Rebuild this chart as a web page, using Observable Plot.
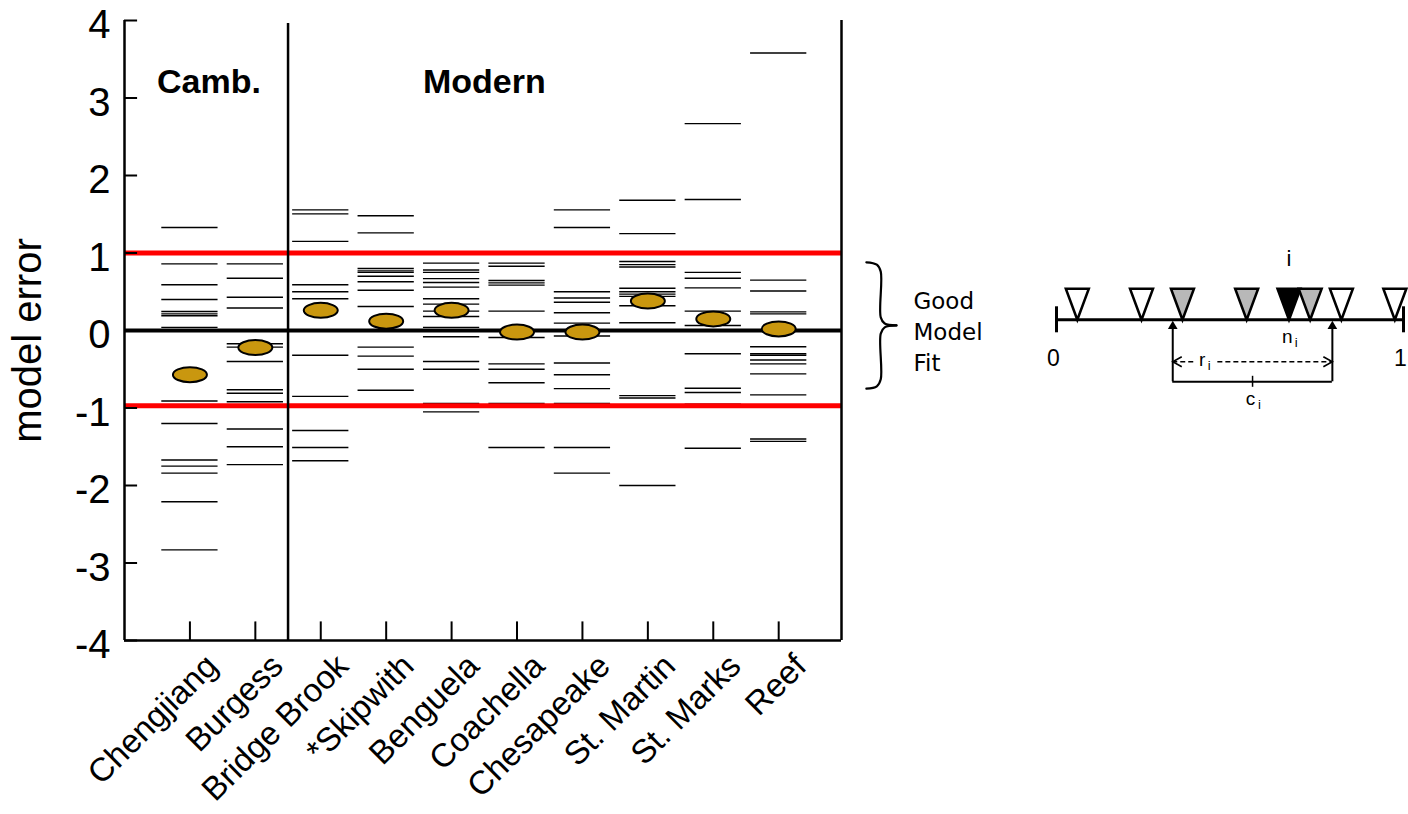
<!DOCTYPE html>
<html>
<head>
<meta charset="utf-8">
<script src="https://cdn.jsdelivr.net/npm/d3@7"></script>
<script src="https://cdn.jsdelivr.net/npm/@observablehq/plot@0.6"></script>
<style>
  body { margin: 0; background: #fff; }
  #wrap { position: relative; width: 1408px; height: 814px; }
  #wrap svg { position: absolute; left: 0; top: 0; }
</style>
</head>
<body>
<div id="wrap"></div>
<script>
// ---------- data ----------
const categories = ["Chengjiang", "Burgess", "Bridge Brook", "*Skipwith", "Benguela",
                    "Coachella", "Chesapeake", "St. Martin", "St. Marks", "Reef"];
const meanError = [-0.57, -0.22, 0.26, 0.12, 0.26, -0.02, -0.02, 0.38, 0.15, 0.02];

const chengjiang  = [1.33, 0.86, 0.59, 0.40, 0.245, 0.215, 0.19, 0.04, -0.91, -1.20, -1.67, -1.75, -1.84, -2.21, -2.83];
const burgess     = [0.86, 0.675, 0.43, 0.29, -0.17, -0.215, -0.40, -0.765, -0.81, -0.92, -1.27, -1.50, -1.73];
const bridgeBrook = [1.557, 1.505, 1.15, 0.59, 0.50, 0.41, -0.32, -0.85, -1.29, -1.51, -1.68];
const skipwith    = [1.48, 1.26, 0.80, 0.77, 0.75, 0.70, 0.63, 0.52, 0.31, -0.215, -0.33, -0.50, -0.77];
const benguela    = [0.87, 0.78, 0.75, 0.67, 0.62, 0.56, 0.41, 0.34, 0.25, 0.18, 0.04, -0.08, -0.40, -0.50, -0.94, -1.05];
const coachella   = [0.87, 0.83, 0.645, 0.615, 0.585, 0.25, -0.09, -0.43, -0.50, -0.675, -0.94, -1.51];
const chesapeake  = [1.557, 1.33, 0.50, 0.42, 0.365, 0.23, 0.095, -0.07, -0.42, -0.57, -0.75, -0.94, -1.51, -1.84];
const stMartin    = [1.68, 1.25, 0.89, 0.85, 0.82, 0.545, 0.50, 0.47, 0.44, 0.32, 0.10, -0.84, -0.87, -2.0];
const stMarks     = [2.67, 1.69, 0.75, 0.675, 0.55, 0.25, 0.065, -0.30, -0.745, -0.80, -0.95, -1.52];
const reef        = [3.58, 0.65, 0.51, 0.24, 0.215, -0.21, -0.30, -0.32, -0.38, -0.43, -0.56, -0.83, -0.97, -1.40, -1.43];

const siteErrors = [chengjiang, burgess, bridgeBrook, skipwith, benguela,
                    coachella, chesapeake, stMartin, stMarks, reef];
const yTicks = [-4, -3, -2, -1, 0, 1, 2, 3, 4];
const fitBounds = [1, -0.97];

// schematic on the right: positions along the 0..1 line and their kind
const triPos  = [0.06, 0.245, 0.363, 0.548, 0.67, 0.731, 0.821, 0.975];
const triKind = ["other", "other", "range", "range", "focal", "range", "other", "other"];
const rangeEnds = [0.335, 0.795];

// ---------- tables ----------
const dashRows = siteErrors.flatMap((vals, i) => vals.map(v => ({site: categories[i], pos: i + 1, v})));
const meanRows = meanError.map((v, i) => ({site: categories[i], pos: i + 1, v}));
const labelRows = categories.map((name, i) => ({name, pos: i + 1}));
const triRows = triPos.map((p, i) => ({p, kind: triKind[i]}));

const FONT = "'Liberation Sans', Arial, Helvetica, sans-serif";
const XMAX = 10.96;
const HALF = 0.43;

const ellipse = {
  draw(ctx) {
    const rx = 17, ry = 7.5, k = 0.5523;
    ctx.moveTo(rx, 0);
    ctx.bezierCurveTo(rx, k * ry, k * rx, ry, 0, ry);
    ctx.bezierCurveTo(-k * rx, ry, -rx, k * ry, -rx, 0);
    ctx.bezierCurveTo(-rx, -k * ry, -k * rx, -ry, 0, -ry);
    ctx.bezierCurveTo(k * rx, -ry, rx, -k * ry, rx, 0);
    ctx.closePath();
  }
};

const braceTop = [[11.34, 0.88], [11.50, 0.85], [11.56, 0.76], [11.56, 0.17], [11.62, 0.09], [11.80, 0.065]];
const braceBot = [[11.80, 0.065], [11.62, 0.04], [11.56, -0.04], [11.56, -0.63], [11.50, -0.72], [11.34, -0.75]];

const main = Plot.plot({
  width: 1408,
  height: 814,
  marginLeft: 124,
  marginRight: 567,
  marginTop: 20,
  marginBottom: 174,
  x: {domain: [0, XMAX], axis: null},
  y: {domain: [-4, 4], axis: null},
  style: {fontFamily: FONT, background: "white", color: "black"},
  marks: [
    // individual model errors
    Plot.ruleY(dashRows, {y: "v", x1: d => d.pos - HALF, x2: d => d.pos + HALF, stroke: "black", strokeWidth: 1.4}),
    // good-fit bounds
    Plot.ruleY(fitBounds, {x1: 0, x2: XMAX, stroke: "#ff0000", strokeWidth: 5}),
    Plot.ruleY([0], {x1: 0, x2: XMAX, stroke: "black", strokeWidth: 4}),
    // Cambrian / Modern divider
    Plot.ruleX([2.5], {y1: -4, y2: 3.96, stroke: "black", strokeWidth: 2.5}),
    // frame
    Plot.ruleX([0, XMAX], {y1: -4, y2: 4, stroke: "black", strokeWidth: 2.5}),
    Plot.ruleY([-4], {x1: 0, x2: XMAX, stroke: "black", strokeWidth: 2.5}),
    // ticks (inward)
    Plot.ruleY(yTicks, {x1: 0, x2: 0.2, stroke: "black", strokeWidth: 2}),
    Plot.ruleX(labelRows, {x: "pos", y1: -4, y2: -3.76, stroke: "black", strokeWidth: 2}),
    // means
    Plot.dot(meanRows, {x: "pos", y: "v", symbol: ellipse, fill: "#C9970F", stroke: "black", strokeWidth: 2}),
    // y axis
    Plot.axisY(yTicks, {tickSize: 0, tickPadding: 14, fontSize: 40, dy: 5, label: null, tickFormat: d => String(d)}),
    Plot.text(["model error"], {frameAnchor: "left", rotate: -90, textAnchor: "middle", lineAnchor: "middle",
                                dx: -96, dy: 10, fontSize: 40}),
    // x labels
    Plot.text(labelRows, {x: "pos", y: -4, text: "name", rotate: -45, textAnchor: "end", lineAnchor: "middle",
                          dx: 22, dy: 20, fontSize: 33}),
    // period titles
    Plot.text(["Camb."], {x: 1.29, y: 3.2, fontSize: 34, fontWeight: "bold"}),
    Plot.text(["Modern"], {x: 5.5, y: 3.2, fontSize: 34, fontWeight: "bold"}),
    // brace + note
    Plot.line(braceTop, {curve: "catmull-rom", stroke: "black", strokeWidth: 2.2}),
    Plot.line(braceBot, {curve: "catmull-rom", stroke: "black", strokeWidth: 2.2}),
    Plot.text(["Good\nModel\nFit"], {x: 12.06, y: 0.0, textAnchor: "start", lineAnchor: "middle", lineHeight: 1.35,
                                     fontSize: 23, fontFamily: "'Comic Sans MS', 'DejaVu Sans', sans-serif"})
  ]
});

const downTri = {
  draw(ctx) {
    ctx.moveTo(-11.5, -15.5);
    ctx.lineTo(11.5, -15.5);
    ctx.lineTo(0, 15.5);
    ctx.closePath();
  }
};
const leftHead = {draw(ctx) { ctx.moveTo(9, -5); ctx.lineTo(0, 0); ctx.lineTo(9, 5); }};
const rightHead = {draw(ctx) { ctx.moveTo(-9, -5); ctx.lineTo(0, 0); ctx.lineTo(-9, 5); }};
const triFill = k => k === "focal" ? "black" : k === "range" ? "#b8b8b8" : "white";
const mid = (rangeEnds[0] + rangeEnds[1]) / 2;

const diagram = Plot.plot({
  width: 1408,
  height: 814,
  x: {domain: [0, 1], range: [1056, 1403], axis: null},
  y: {domain: [-10, 0], range: [419.3, 319.3], axis: null},
  style: {fontFamily: FONT, background: "transparent", color: "black", overflow: "visible"},
  marks: [
    Plot.ruleY([0], {x1: 0, x2: 1, stroke: "black", strokeWidth: 3}),
    Plot.ruleX([0, 1], {y1: 1.3, y2: -1.3, stroke: "black", strokeWidth: 3}),
    Plot.dot(triRows, {x: "p", y: 1.55, symbol: downTri, fill: d => triFill(d.kind), stroke: "black", strokeWidth: 2.5}),
    // range bracket
    Plot.ruleX(rangeEnds, {y1: -6.2, y2: -0.6, stroke: "black", strokeWidth: 2}),
    Plot.dot(rangeEnds, {x: d => d, y: -0.65, symbol: "triangle", r: 3.6, fill: "black", stroke: null}),
    Plot.ruleY([-6.2], {x1: rangeEnds[0], x2: rangeEnds[1], stroke: "black", strokeWidth: 2}),
    Plot.ruleX([mid], {y1: -5.65, y2: -6.75, stroke: "black", strokeWidth: 1.5}),
    // dashed r_i arrow
    Plot.ruleY([-4.2], {x1: rangeEnds[0], x2: 0.4, stroke: "black", strokeWidth: 1.5, strokeDasharray: "5,3"}),
    Plot.ruleY([-4.2], {x1: 0.465, x2: rangeEnds[1], stroke: "black", strokeWidth: 1.5, strokeDasharray: "5,3"}),
    Plot.dot([rangeEnds[0]], {x: d => d, y: -4.2, symbol: leftHead, fill: "none", stroke: "black", strokeWidth: 1.6}),
    Plot.dot([rangeEnds[1]], {x: d => d, y: -4.2, symbol: rightHead, fill: "none", stroke: "black", strokeWidth: 1.6}),
    // labels
    Plot.text(["0"], {x: 0, y: -3.9, fontSize: 23, dx: -3}),
    Plot.text(["1"], {x: 1, y: -3.9, fontSize: 23, dx: -3}),
    Plot.text(["i"], {x: 0.67, y: 6.1, fontSize: 22}),
    Plot.text(["n"], {x: 0.665, y: -1.75, fontSize: 19}),
    Plot.text(["i"], {x: 0.665, y: -1.75, dx: 9, dy: 6, fontSize: 13}),
    Plot.text(["r"], {x: 0.42, y: -4.0, fontSize: 19}),
    Plot.text(["i"], {x: 0.42, y: -4.0, dx: 7, dy: 6, fontSize: 13}),
    Plot.text(["c"], {x: 0.559, y: -7.9, fontSize: 19}),
    Plot.text(["i"], {x: 0.559, y: -7.9, dx: 9, dy: 6, fontSize: 13})
  ]
});

const wrap = document.getElementById("wrap");
wrap.appendChild(main);
wrap.appendChild(diagram);
</script>
</body>
</html>
